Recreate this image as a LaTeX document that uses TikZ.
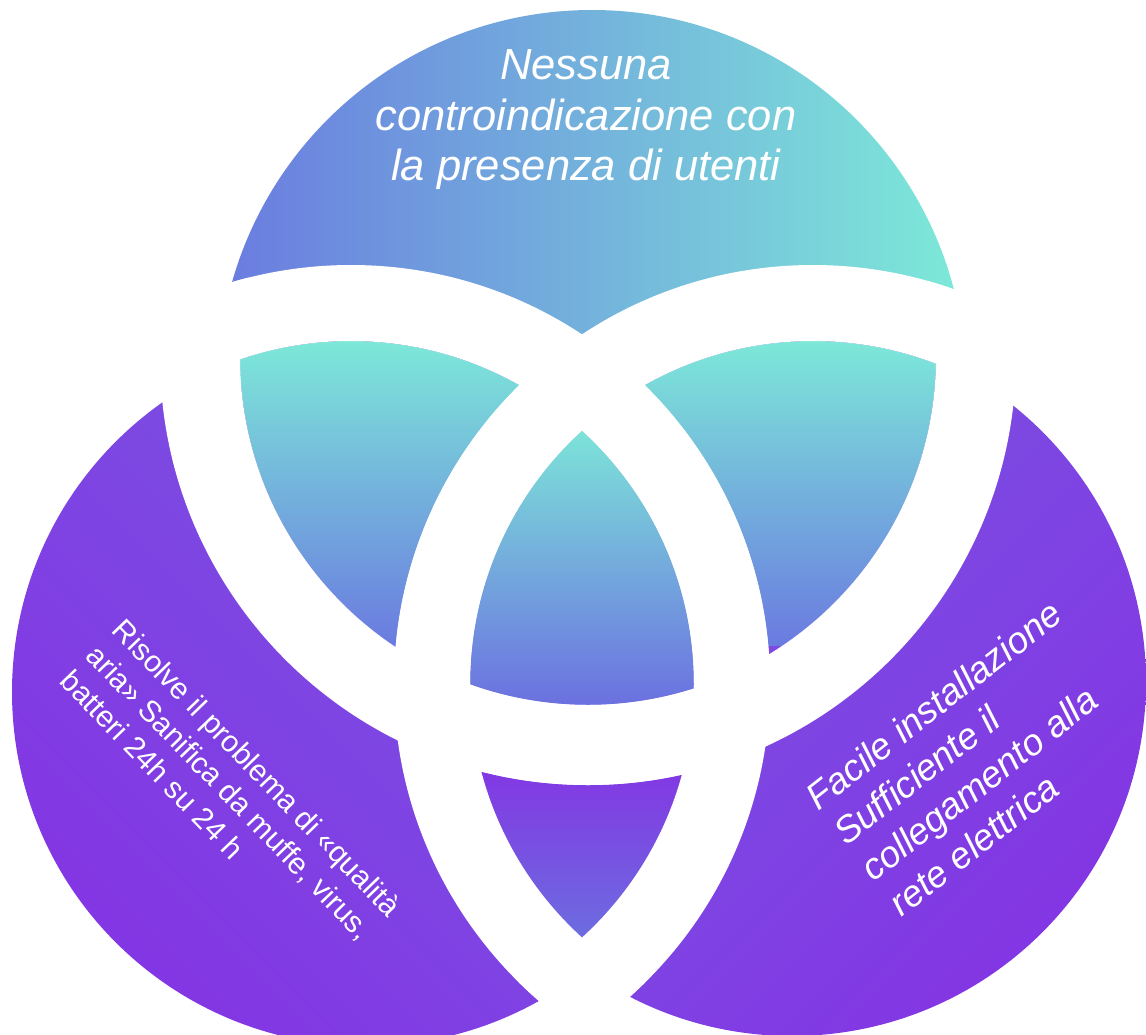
\documentclass[tikz,border=0pt]{standalone}
\usepackage{fontspec}
\setmainfont{Liberation Sans}

\definecolor{mint}{HTML}{7DEAD8}
\definecolor{cornflower}{HTML}{6A7BE0}
\definecolor{deepviolet}{HTML}{8336E3}
\definecolor{lavender}{HTML}{7758E2}
\definecolor{bluish}{HTML}{6B6FE0}

\begin{document}
\begin{tikzpicture}[x=1pt,y=-1pt,
  band/.style={draw=white,line width=#1},
  vennlabel/.style={text=white,inner sep=0pt}]
 \useasboundingbox (0,0) rectangle (1146,1034);
 \clip (0,0) rectangle (1146,1034);
 % centres of the white bands and of the outer edges
 \coordinate (t) at (588,357);
 \coordinate (l) at (351,684);
 \coordinate (r) at (813,684);
 \coordinate (tv) at (592,384);
 \coordinate (lv) at (366,692);
 \coordinate (rv) at (792,682);

 \shade[left color=cornflower,right color=mint] (tv) circle[radius=374pt];
 \shade[top color=lavender,bottom color=deepviolet,shading angle=-45] (lv) circle[radius=354pt];
 \shade[top color=lavender,bottom color=deepviolet,shading angle=45] (rv) circle[radius=354pt];

 \begin{scope}
  \clip (t) circle[radius=348pt];
  \clip (l) circle[radius=343pt];
  \shade[top color=mint,bottom color=cornflower] (220,335) rectangle (525,645);
 \end{scope}
 \begin{scope}
  \clip (t) circle[radius=348pt];
  \clip (r) circle[radius=343pt];
  \shade[top color=mint,bottom color=cornflower] (635,335) rectangle (945,645);
 \end{scope}
 \begin{scope}
  \clip (l) circle[radius=343pt];
  \clip (r) circle[radius=343pt];
  \shade[top color=deepviolet,bottom color=bluish] (455,765) rectangle (710,945);
 \end{scope}
 \begin{scope}
  \clip (t) circle[radius=348pt];
  \clip (l) circle[radius=343pt];
  \clip (r) circle[radius=343pt];
  \shade[top color=mint,bottom color=bluish] (445,415) rectangle (720,708);
 \end{scope}

 \foreach \bnd/\rad/\wd/\oth/\orad in
   {t/388/80/l/419, t/388/80/r/419, l/381/76/t/428, l/381/76/r/419, r/381/76/t/428, r/381/76/l/419}
  {\begin{scope}
    \clip (\oth) circle[radius=\orad pt];
    \draw[band=\wd pt] (\bnd) circle[radius=\rad pt];
   \end{scope}}

 \node[vennlabel,align=center,font=\fontsize{43.5}{50.5}\selectfont\itshape] (nessuna) at (586,120)
  {Nessuna\\controindicazione con\\la presenza di utenti};
 \node[vennlabel,align=left,rotate=-46,font=\fontsize{30}{36.5}\selectfont] (risolve) at (231,793)
  {Risolve il problema di «qualità\\aria» Sanifica da muffe, virus,\\batteri 24h su 24 h};
 \node[vennlabel,align=left,rotate=38,font=\fontsize{37}{45}\selectfont\itshape] (facile) at (975,758)
  {Facile installazione\\Sufficiente il\\collegamento alla\\rete elettrica};
\end{tikzpicture}
\end{document}
